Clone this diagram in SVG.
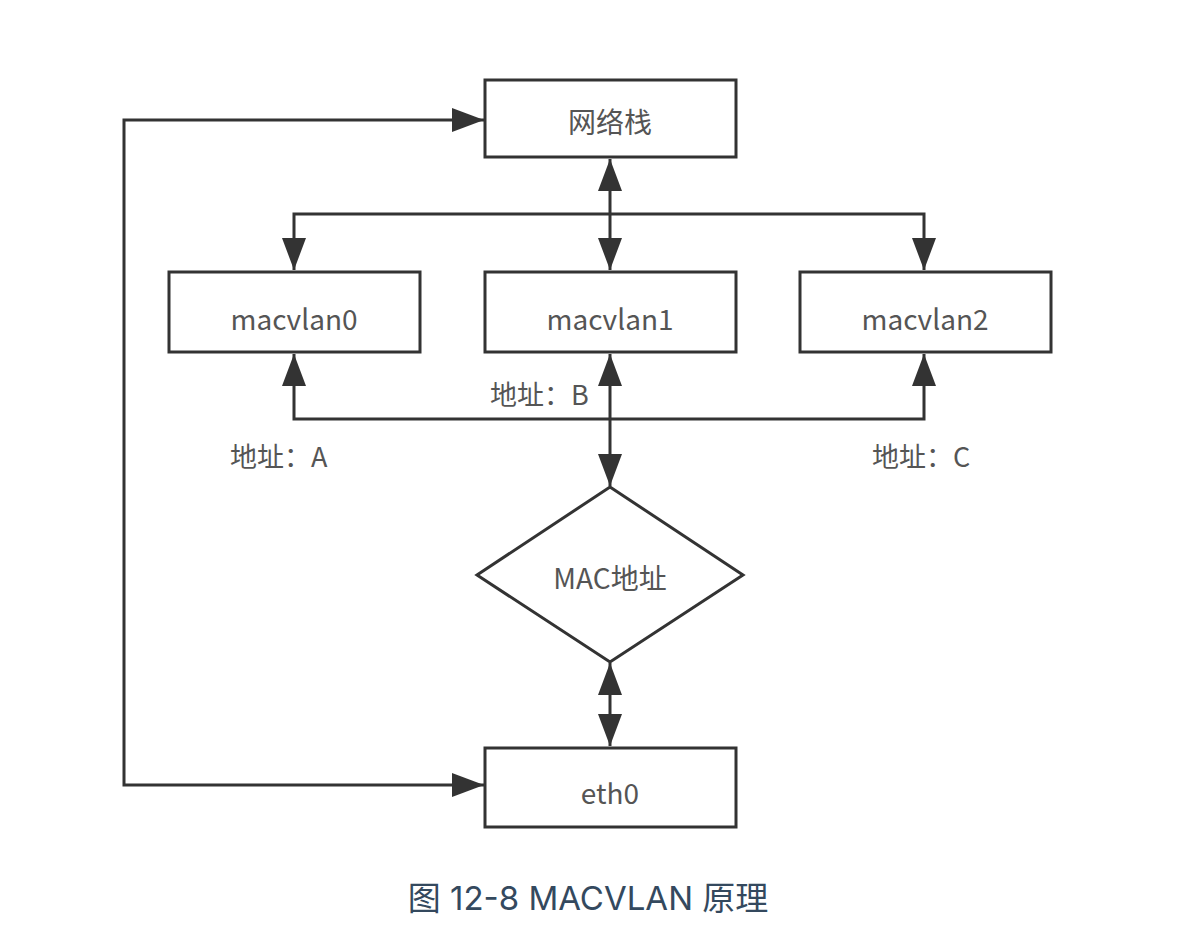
<svg xmlns="http://www.w3.org/2000/svg" width="1184" height="942" viewBox="0 0 1184 942">
<style>
.node{fill:#fff;stroke:#333;stroke-width:3}
.conn{fill:none;stroke:#333;stroke-width:3}
.lbl{font-family:"Noto Sans CJK SC","Noto Sans",sans-serif;font-size:28px;fill:#555;text-anchor:middle;dominant-baseline:central}
.lab{font-family:"Noto Sans CJK SC","Noto Sans",sans-serif;font-size:27px;fill:#555}
.cap{font-family:Inter,"Noto Sans CJK SC",sans-serif;font-size:33px;fill:#34495e;text-anchor:middle}
</style>
<defs>
<marker id="ah" markerUnits="userSpaceOnUse" markerWidth="34" markerHeight="26" refX="32" refY="12" orient="auto-start-reverse" viewBox="0 0 34 24">
<path d="M0,0 L32,12 L0,24 Z" fill="#333"/>
</marker>
</defs>
<rect width="1184" height="942" fill="#fff"/>
<g id="connectors">
<path class="conn" d="M610,159 L610,270" marker-start="url(#ah)" marker-end="url(#ah)"/>
<path class="conn" d="M294,270 L294,214 L924,214 L924,270" marker-start="url(#ah)" marker-end="url(#ah)"/>
<path class="conn" d="M294,354 L294,419 L924,419 L924,354" marker-start="url(#ah)" marker-end="url(#ah)"/>
<path class="conn" d="M610,354 L610,486" marker-start="url(#ah)" marker-end="url(#ah)"/>
<path class="conn" d="M610,663 L610,746" marker-start="url(#ah)" marker-end="url(#ah)"/>
<path class="conn" d="M484,785 L124,785 L124,120 L484,120" marker-start="url(#ah)" marker-end="url(#ah)"/>
</g>
<g id="n_stack"><rect class="node" x="485" y="80" width="251" height="77"/><text class="lbl" x="610" y="121">网络栈</text></g>
<g id="n_macvlan0"><rect class="node" x="169" y="272" width="251" height="80"/><text class="lbl" x="294" y="318">macvlan0</text></g>
<g id="n_macvlan1"><rect class="node" x="485" y="272" width="251" height="80"/><text class="lbl" x="610" y="318">macvlan1</text></g>
<g id="n_macvlan2"><rect class="node" x="800" y="272" width="251" height="80"/><text class="lbl" x="925" y="318">macvlan2</text></g>
<g id="n_mac"><polygon class="node" points="610,487 743,575 610,662 477,575"/><text class="lbl" x="610" y="577">MAC地址</text></g>
<g id="n_eth0"><rect class="node" x="485" y="748" width="251" height="79"/><text class="lbl" x="610" y="792">eth0</text></g>
<g id="labels">
<text class="lab" x="490" y="405">地址：B</text>
<text class="lab" x="230" y="467">地址：A</text>
<text class="lab" x="872" y="467">地址：C</text>
</g>
<text class="cap" x="588" y="910">图 12-8 MACVLAN 原理</text>
</svg>
